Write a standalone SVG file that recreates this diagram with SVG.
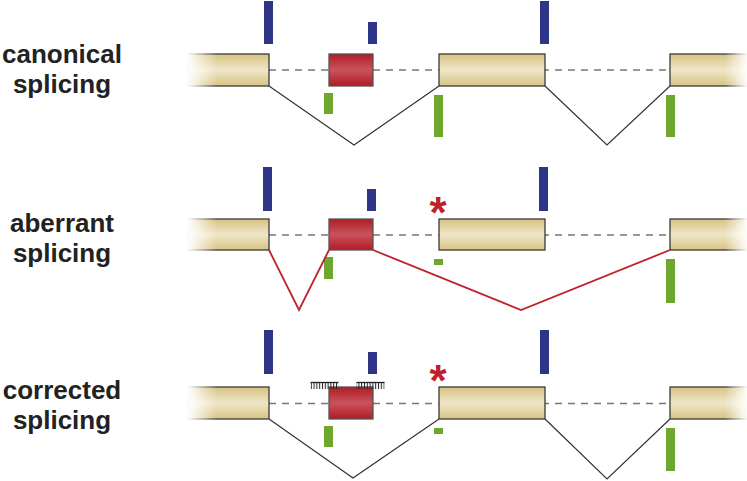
<svg xmlns="http://www.w3.org/2000/svg" width="747" height="481" viewBox="0 0 747 481">
<defs>
<linearGradient id="gExon" x1="0" y1="0" x2="0" y2="1">
<stop offset="0" stop-color="#d8c383"/><stop offset="0.5" stop-color="#efe6c8"/><stop offset="1" stop-color="#d8c383"/>
</linearGradient>
<linearGradient id="gRed" x1="0" y1="0" x2="0" y2="1">
<stop offset="0" stop-color="#b01c24"/><stop offset="0.5" stop-color="#c9535d"/><stop offset="1" stop-color="#b01c24"/>
</linearGradient>
<linearGradient id="fadeL" x1="0" y1="0" x2="1" y2="0">
<stop offset="0" stop-color="#fff" stop-opacity="1"/><stop offset="1" stop-color="#fff" stop-opacity="0"/>
</linearGradient>
<linearGradient id="fadeR" x1="0" y1="0" x2="1" y2="0">
<stop offset="0" stop-color="#fff" stop-opacity="0"/><stop offset="1" stop-color="#fff" stop-opacity="1"/>
</linearGradient>
<pattern id="teeth" x="0" y="0" width="2.8" height="8" patternUnits="userSpaceOnUse">
<rect x="0" y="0" width="1" height="8" fill="#222"/>
</pattern>
</defs>
<style>
.lbl{font-family:"Liberation Sans",Arial,sans-serif;font-weight:bold;font-size:26px;fill:#222;text-anchor:middle}
.exon{fill:url(#gExon);stroke:#3a3a3a;stroke-width:1.3}
.rexon{fill:url(#gRed);stroke:#555;stroke-width:1.3}
.blue{fill:#2e3586}
.green{fill:#6ea72e}
.dash{stroke:#777;stroke-width:1.3;stroke-dasharray:7,6;fill:none}
.intron{stroke:#333;stroke-width:1.2;fill:none}
.aber{stroke:#c0202a;stroke-width:1.8;fill:none}
.star{font-family:"Liberation Sans",Arial,sans-serif;font-weight:bold;font-size:44px;fill:#c0202a;text-anchor:middle}
</style>

<g id="labels">
<text class="lbl" x="62" y="63">canonical</text>
<text class="lbl" x="62" y="93">splicing</text>
<text class="lbl" x="62" y="232">aberrant</text>
<text class="lbl" x="62" y="262">splicing</text>
<text class="lbl" x="62" y="399">corrected</text>
<text class="lbl" x="62" y="429">splicing</text>
</g>

<!-- Row 1: canonical -->
<g id="row1">
<line class="dash" x1="269" y1="70" x2="670" y2="70"/>
<g id="r1-exon1"><rect class="exon" x="188" y="54" width="81" height="32"/><rect x="187" y="52" width="30" height="36" fill="url(#fadeL)"/></g>
<g id="r1-exon2"><rect class="rexon" x="329" y="54" width="44" height="32"/></g>
<g id="r1-exon3"><rect class="exon" x="439" y="54" width="106" height="32"/></g>
<g id="r1-exon4"><rect class="exon" x="670" y="54" width="82" height="32"/><rect x="725" y="52" width="23" height="36" fill="url(#fadeR)"/></g>
<rect class="blue" x="264" y="1" width="9" height="43"/>
<rect class="blue" x="368" y="22" width="9" height="22"/>
<rect class="blue" x="540" y="1" width="9" height="43"/>
<rect class="green" x="324" y="93" width="9" height="21"/>
<rect class="green" x="434" y="95" width="9" height="42"/>
<rect class="green" x="666" y="95" width="9" height="42"/>
</g>

<!-- Row 2: aberrant -->
<g id="row2">
<line class="dash" x1="269" y1="235" x2="670" y2="235"/>
<g id="r2-exon1"><rect class="exon" x="188" y="219" width="81" height="31"/><rect x="187" y="217" width="30" height="35" fill="url(#fadeL)"/></g>
<g id="r2-exon2"><rect class="rexon" x="329" y="219" width="44" height="31"/></g>
<g id="r2-exon3"><rect class="exon" x="439" y="219" width="106" height="31"/></g>
<g id="r2-exon4"><rect class="exon" x="670" y="219" width="82" height="31"/><rect x="725" y="217" width="23" height="35" fill="url(#fadeR)"/></g>
<rect class="blue" x="263" y="167" width="9" height="44"/>
<rect class="blue" x="367" y="189" width="9" height="22"/>
<rect class="blue" x="539" y="167" width="9" height="44"/>
<rect class="green" x="324" y="257" width="9" height="22"/>
<rect class="green" x="434" y="259" width="9" height="6"/>
<rect class="green" x="666" y="259" width="9" height="44"/>
<text class="star" x="438" y="228">*</text>
</g>

<!-- Row 3: corrected -->
<g id="row3">
<line class="dash" x1="269" y1="403.5" x2="670" y2="403.5"/>
<g id="r3-exon1"><rect class="exon" x="188" y="387" width="81" height="32"/><rect x="187" y="385" width="30" height="36" fill="url(#fadeL)"/></g>
<g id="r3-exon2"><rect class="rexon" x="329" y="387" width="44" height="32"/></g>
<g id="r3-exon3"><rect class="exon" x="439" y="387" width="106" height="32"/></g>
<g id="r3-exon4"><rect class="exon" x="670" y="387" width="82" height="32"/><rect x="725" y="385" width="23" height="36" fill="url(#fadeR)"/></g>
<rect class="blue" x="264" y="330" width="9" height="44"/>
<rect class="blue" x="368" y="352" width="9" height="22"/>
<rect class="blue" x="540" y="330" width="9" height="44"/>
<rect class="green" x="324" y="426" width="9" height="21"/>
<rect class="green" x="434" y="428" width="9" height="6"/>
<rect class="green" x="666" y="428" width="9" height="43"/>
<text class="star" x="438" y="396">*</text>
<g id="aso1">
<rect x="310.5" y="382.5" width="28" height="6.5" fill="url(#teeth)"/>
<line x1="310.5" y1="382.5" x2="338.5" y2="382.5" stroke="#222" stroke-width="1.3"/>
</g>
<g id="aso2">
<rect x="356.5" y="382.5" width="28" height="6.5" fill="url(#teeth)"/>
<line x1="356.5" y1="382.5" x2="384.5" y2="382.5" stroke="#222" stroke-width="1.3"/>
</g>
</g>

<g id="connectors">
<polyline class="intron" points="269,86 354,145 439,86"/>
<polyline class="intron" points="545,86 607,145 670,86"/>
<polyline class="aber" points="269,250 299,310 329,250"/>
<polyline class="aber" points="373,250 521,310 670,250"/>
<polyline class="intron" points="269,419 353,478 439,419"/>
<polyline class="intron" points="545,419 607,479 670,419"/>
</g>
</svg>
